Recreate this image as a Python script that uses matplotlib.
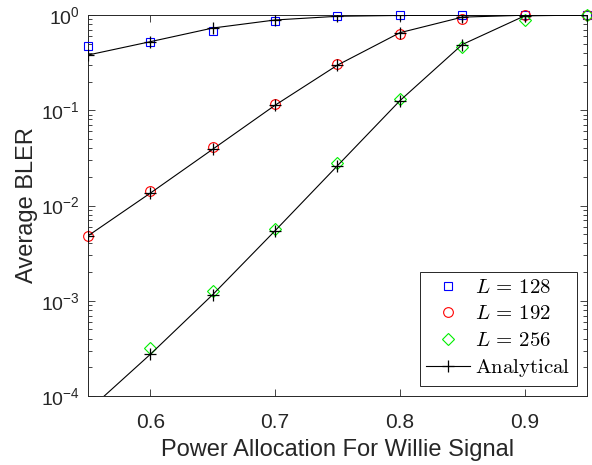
import numpy as np
import matplotlib
matplotlib.use('Agg')
import matplotlib.pyplot as plt
from matplotlib.font_manager import FontProperties
from matplotlib.ticker import LogLocator, FixedLocator

plt.rcParams['font.family'] = 'Liberation Sans'
plt.rcParams['mathtext.fontset'] = 'custom'
plt.rcParams['mathtext.rm'] = 'Liberation Sans'
plt.rcParams['mathtext.it'] = 'Liberation Sans:italic'

power = [0.55, 0.60, 0.65, 0.70, 0.75, 0.80, 0.85, 0.90, 0.95]

# simulated BLER
sim_128 = [0.47, 0.517, 0.684, 0.86, 0.976, 0.99, 0.995, 0.998, 1.0]
sim_192 = [0.00482, 0.0142, 0.0414, 0.117, 0.303, 0.627, 0.908, 0.99, 1.0]
sim_256 = [None, 3.17e-4, 1.26e-3, 5.66e-3, 0.0277, 0.132, 0.458, 0.89, 0.995]

# analytical BLER
ana_128 = [0.38, 0.525, 0.73, 0.887, 0.97, 0.99, 0.997, 0.999, 1.0]
ana_192 = [0.0048, 0.0135, 0.039, 0.113, 0.298, 0.652, 0.95, 0.995, 1.0]
ana_256 = [7.0e-5, 2.74e-4, 1.16e-3, 5.44e-3, 0.0262, 0.126, 0.49, 0.98, 1.0]

fig = plt.figure(figsize=(5.92, 4.65), dpi=100)
ax = fig.add_axes([0.1486, 0.1484, 0.843, 0.8193])

x = np.array(power)
s256 = np.array([np.nan if v is None else v for v in sim_256])

ax.plot(x, sim_128, ls='none', marker='s', ms=5.5, mfc='none', mec='blue', mew=0.8,
        label=r'$L\,=\,128$', clip_on=False, zorder=3)
ax.plot(x, sim_192, ls='none', marker='o', ms=7, mfc='none', mec='red', mew=0.8,
        label=r'$L\,=\,192$', clip_on=False, zorder=3)
ax.plot(x, s256, ls='none', marker='D', ms=6, mfc='none', mec='#00ee00', mew=0.8,
        label=r'$L\,=\,256$', clip_on=False, zorder=3)
for i, a in enumerate([ana_128, ana_192, ana_256]):
    ax.plot(x, a, color='black', lw=0.8, marker='+', ms=9, mew=0.9, zorder=4,
            label=r'$\mathrm{Analytical}$' if i == 0 else None)

ax.set_yscale('log')
ax.set_xlim(0.55, 0.95)
ax.set_ylim(1e-4, 1)
ax.xaxis.set_major_locator(FixedLocator([0.6, 0.7, 0.8, 0.9]))
ax.yaxis.set_major_locator(LogLocator(base=10, numticks=10))
ax.yaxis.set_minor_locator(LogLocator(base=10, subs=np.arange(2, 10), numticks=20))
ax.set_xticklabels(['0.6', '0.7', '0.8', '0.9'])
ax.tick_params(which='both', direction='in', top=True, right=True, colors='#262626',
               labelcolor='#262626')
ax.tick_params(axis='x', labelsize=15)
ax.tick_params(axis='y', labelsize=14)
ax.tick_params(which='major', length=5, width=0.6)
ax.tick_params(which='minor', length=3, width=0.6)
ax.tick_params(axis='x', which='major', pad=12)
ax.tick_params(axis='y', which='major', pad=6)
for sp in ax.spines.values():
    sp.set_color('#262626')
    sp.set_linewidth(0.7)

ax.set_xlabel('Power Allocation For Willie Signal', fontsize=17, color='#262626',
              labelpad=5)
ax.set_ylabel('Average BLER', fontsize=17, color='#262626', labelpad=2)

leg_font = FontProperties(family='DejaVu Serif', size=15, math_fontfamily='cm')
leg = ax.legend(loc='lower right', prop=leg_font, frameon=True, fancybox=False,
                edgecolor='#262626', framealpha=1, borderaxespad=0.5,
                handlelength=2.1, handletextpad=0.25, labelspacing=0.36,
                borderpad=0.3)
leg.get_frame().set_linewidth(0.7)

fig.savefig('out.png', dpi=100)
